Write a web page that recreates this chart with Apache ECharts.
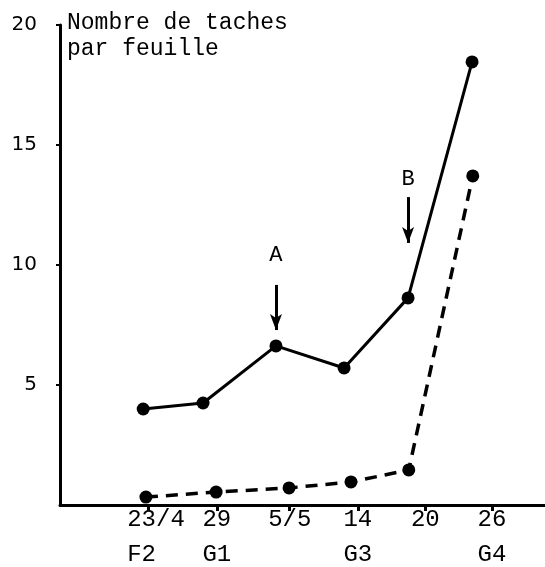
<!DOCTYPE html>
<html>
<head>
<meta charset="utf-8">
<script src="https://cdn.jsdelivr.net/npm/echarts@6/dist/echarts.min.js"></script>
<style>html,body{margin:0;padding:0;background:#fff}#c{width:545px;height:567px}</style>
</head>
<body>
<div id="c"></div>
<script>
// x positions in sampling-date units (tick index)
var tickPos = [0, 1, 2.06, 3.05, 4.03, 5];
var dateLabels = ['23/4', '29', '5/5', '14', '20', '26'];
var stageLabels = ['F2', 'G1', '', 'G3', '', 'G4'];
var solidX = [-0.07, 0.80, 1.86, 2.85, 3.78, 4.71];
var solidY = [4.0, 4.25, 6.63, 5.71, 8.63, 18.46];
var dashedX = [-0.03, 0.99, 2.05, 2.95, 3.79, 4.72];
var dashedY = [0.33, 0.54, 0.71, 0.96, 1.46, 13.71];
var yTicks = [5, 10, 15, 20];
var arrowA = {label: 'A', x: 1.86, from: 9.17, to: 7.29};
var arrowB = {label: 'B', x: 3.78, from: 12.83, to: 10.92};
var titleText = 'Nombre de taches\npar feuille';

function pairs(xs, ys) { return xs.map(function (x, i) { return [x, ys[i]]; }); }
function padTo(s, n) { while (s.length < n) s += ' '; return s; }

var mono = '"Liberation Mono", "DejaVu Sans Mono", monospace';
var sans = '"DejaVu Sans", "Liberation Sans", sans-serif';

function arrowLine(a, dist) {
  return [{coord: [a.x, a.from], label: {formatter: a.label, distance: dist}}, {coord: [a.x, a.to]}];
}

var chart = echarts.init(document.getElementById('c'), null, {renderer: 'canvas'});
chart.setOption({
  animation: false,
  backgroundColor: '#fff',
  title: {
    text: titleText,
    left: 62, top: 5,
    textStyle: {fontFamily: mono, fontSize: 23, fontWeight: 'normal', color: '#000', lineHeight: 26}
  },
  grid: {left: 60, right: 0, top: 25, bottom: 62, containLabel: false},
  xAxis: {
    type: 'value', min: -1.279, max: 5.77,
    splitLine: {show: false},
    axisLine: {show: true, onZero: false, lineStyle: {color: '#000', width: 3}},
    axisTick: {show: true, customValues: tickPos, length: 6, lineStyle: {color: '#000', width: 3}},
    axisLabel: {
      show: true, customValues: tickPos, margin: 2, color: '#000',
      fontFamily: mono, fontSize: 24,
      formatter: function (v) {
        var idx = 0, best = 1e9;
        tickPos.forEach(function (t, i) { if (Math.abs(t - v) < best) { best = Math.abs(t - v); idx = i; } });
        var d = dateLabels[idx], s = stageLabels[idx];
        var sfx = idx === 0 ? '0' : '';
        return '{a' + sfx + '|' + d + '}\n{b' + sfx + '|' + padTo(s, d.length) + '}';
      },
      rich: {
        a: {fontFamily: mono, fontSize: 24, lineHeight: 26, color: '#000'},
        b: {fontFamily: mono, fontSize: 24, lineHeight: 44, color: '#000'},
        a0: {fontFamily: mono, fontSize: 24, lineHeight: 26, color: '#000', padding: [0, 0, 0, 16]},
        b0: {fontFamily: mono, fontSize: 24, lineHeight: 44, color: '#000', padding: [0, 0, 0, 16]}
      }
    }
  },
  yAxis: {
    type: 'value', min: 0, max: 20,
    splitLine: {show: false},
    axisLine: {show: true, onZero: false, lineStyle: {color: '#000', width: 3}},
    axisTick: {show: true, customValues: yTicks, length: 4, lineStyle: {color: '#000', width: 2}},
    axisLabel: {
      show: true, customValues: yTicks, margin: 23, color: '#000',
      fontFamily: sans, fontSize: 20, padding: [0, 0, 10, 0]
    }
  },
  series: [
    {
      type: 'line', data: pairs(solidX, solidY),
      symbol: 'circle', symbolSize: 13, clip: false,
      itemStyle: {color: '#000'},
      lineStyle: {color: '#000', width: 3, type: 'solid'},
      markLine: {
        silent: true, animation: false,
        symbol: ['none', 'arrow'], symbolSize: [9, 16],
        lineStyle: {color: '#000', width: 3, type: 'solid'},
        label: {show: true, position: 'start', distance: 8, color: '#000', fontFamily: mono, fontSize: 22},
        data: [arrowLine(arrowA, 19), arrowLine(arrowB, 7)]
      }
    },
    {
      type: 'line', data: pairs(dashedX, dashedY),
      symbol: 'circle', symbolSize: 13, clip: false,
      itemStyle: {color: '#000'},
      lineStyle: {color: '#000', width: 3.5, type: [12, 8]}
    }
  ]
});
</script>
</body>
</html>
